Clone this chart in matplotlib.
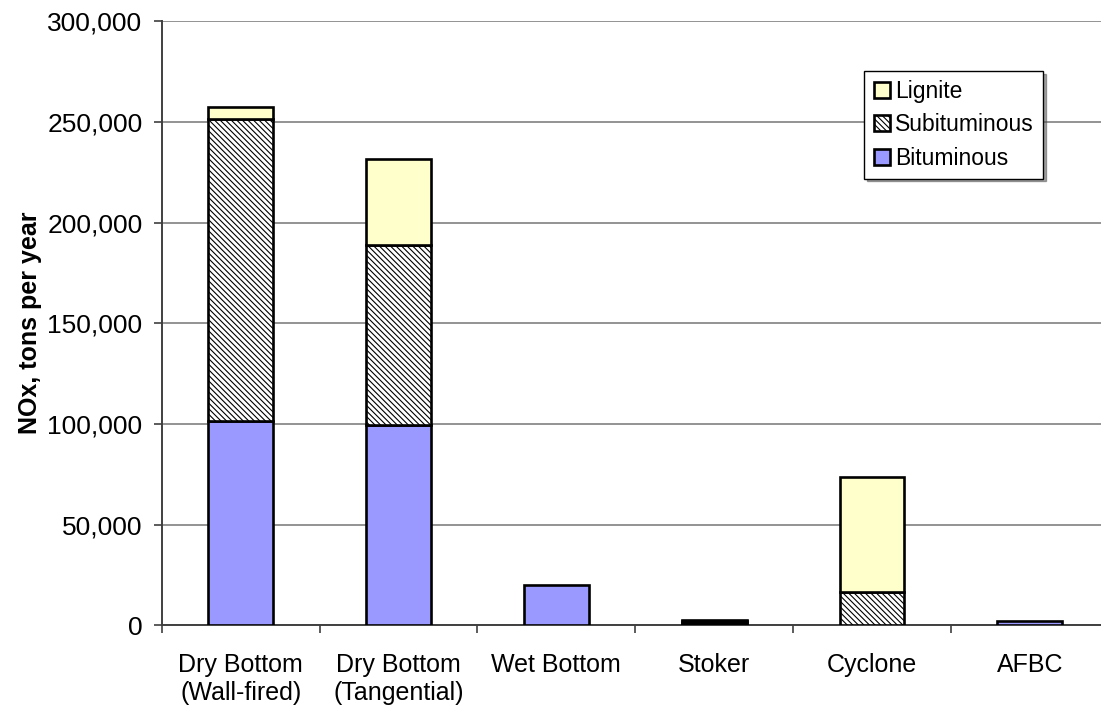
import numpy as np
import matplotlib
matplotlib.use("Agg")
import matplotlib.pyplot as plt
from matplotlib.ticker import FuncFormatter

plt.rcParams['font.family'] = ['Liberation Sans', 'DejaVu Sans']
plt.rcParams['hatch.linewidth'] = 0.8
plt.rcParams['hatch.color'] = '#3a3a3a'

# NOx emissions by boiler type and coal rank (tons per year)
boilers = ["Dry Bottom\n(Wall-fired)", "Dry Bottom\n(Tangential)", "Wet Bottom",
           "Stoker", "Cyclone", "AFBC"]
bituminous = [101500, 99500, 19800, 1200, 0, 2000]
subbituminous = [150000, 89400, 0, 900, 16400, 0]
lignite = [6000, 42600, 0, 600, 57000, 0]

fig = plt.figure(figsize=(11.01, 7.08), dpi=100)
ax = fig.add_axes([0.147, 0.117, 0.86, 0.853])

x = np.arange(len(boilers))
w = 0.41
edge = dict(edgecolor='black', linewidth=1.9)

bottom1 = np.array(bituminous)
bottom2 = bottom1 + np.array(subbituminous)
b1 = ax.bar(x, bituminous, w, color='#9999FF', label='Bituminous', zorder=3, **edge)
b2 = ax.bar(x, subbituminous, w, bottom=bottom1, color='white', hatch='\\' * 6,
            label='Subituminous', zorder=3, **edge)
b3 = ax.bar(x, lignite, w, bottom=bottom2, color='#FFFFCC', label='Lignite',
            zorder=3, **edge)

# hide empty segments so they don't leave a black line at the base
for bars, vals in ((b1, bituminous), (b2, subbituminous), (b3, lignite)):
    for b, v in zip(bars, vals):
        if v == 0:
            b.set_visible(False)

ax.set_xlim(-0.5, len(boilers) - 0.5)
ax.set_ylim(0, 300000)
ax.set_yticks(np.arange(0, 300001, 50000))
ax.yaxis.set_major_formatter(FuncFormatter(lambda v, p: f"{int(v):,}"))
ax.yaxis.grid(True, color='#808080', linewidth=1.2, zorder=0)
ax.set_axisbelow(True)

ax.set_xticks(x)
ax.set_xticklabels(boilers)
ax.set_xticks(np.arange(-0.5, len(boilers)), minor=True)
ax.tick_params(axis='x', which='major', length=0, pad=20, labelsize=18)
ax.tick_params(axis='x', which='minor', length=6, width=1.2, color='#404040')
ax.tick_params(axis='y', length=6, width=1.2, color='#404040', labelsize=19, pad=8)

for s in ('top', 'right'):
    ax.spines[s].set_visible(False)
for s in ('left', 'bottom'):
    ax.spines[s].set_color('#404040')
    ax.spines[s].set_linewidth(1.4)

ax.set_ylabel("NOx, tons per year", fontsize=18, fontweight='bold', labelpad=4)

leg = ax.legend(handles=[b3, b2, b1], loc='upper left', bbox_to_anchor=(0.742, 0.918),
                fancybox=False, shadow=True, edgecolor='black', fontsize=16.5,
                handlelength=0.7, handleheight=0.7, handletextpad=0.25,
                labelspacing=0.45, borderpad=0.4, borderaxespad=0)
leg.get_frame().set_linewidth(1.0)

fig.savefig("out.png", dpi=100)
